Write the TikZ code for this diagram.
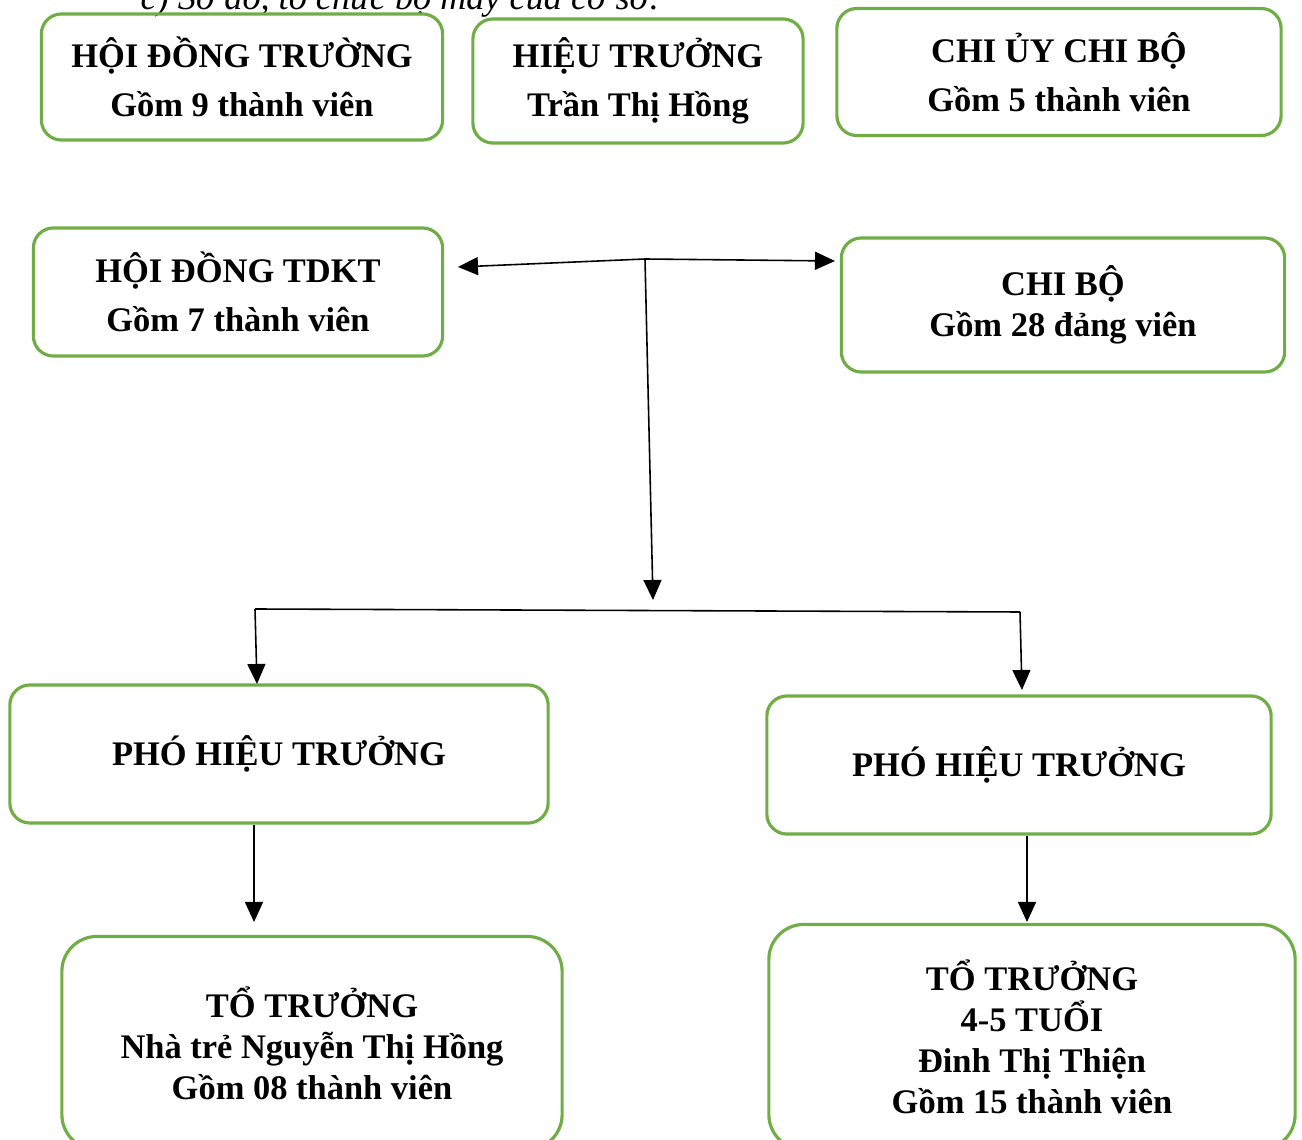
\documentclass[tikz,border=0pt]{standalone}
\usepackage{fontspec}
\setmainfont{Liberation Serif}
\usetikzlibrary{arrows.meta}
\definecolor{vienxanh}{RGB}{112,173,71}
\tikzset{
  khung/.style={draw=vienxanh, line width=0.9pt, rounded corners=2mm, align=center, inner sep=0pt,
    font=\bfseries\fontsize{9.8}{11.7}\selectfont},
  thoang/.style={font=\bfseries\fontsize{9.8}{14}\selectfont},
  muiten/.style={-{Triangle[length=2mm,width=1.8mm]}, line width=0.45pt},
  noi/.style={line width=0.45pt}
}
\begin{document}
\begin{tikzpicture}[x=0.01cm, y=-0.01cm]
  \clip (0,0) rectangle (1302,1140);
  % tieu de bi cat o tren
  \node[anchor=base west, inner sep=0pt, font=\itshape\fontsize{10.3}{12}\selectfont] (tieude) at (140,10) {c) Sơ đồ, tổ chức bộ máy của cơ sở:};

  \node[khung, thoang, minimum width=4.01cm, minimum height=1.26cm] (hdt) at (242,77) {HỘI ĐỒNG TRƯỜNG\\Gồm 9 thành viên};
  \node[khung, thoang, minimum width=3.30cm, minimum height=1.24cm] (ht) at (638,81) {HIỆU TRƯỞNG\\Trần Thị Hồng};
  \node[khung, thoang, minimum width=4.44cm, minimum height=1.27cm] (cuy) at (1059,72) {CHI ỦY CHI BỘ\\Gồm 5 thành viên};
  \node[khung, thoang, minimum width=4.09cm, minimum height=1.28cm] (tdkt) at (238,292) {HỘI ĐỒNG TDKT\\Gồm 7 thành viên};
  \node[khung, minimum width=4.43cm, minimum height=1.34cm] (chibo) at (1063,305) {CHI BỘ\\Gồm 28 đảng viên};
  \node[khung, minimum width=5.38cm, minimum height=1.38cm] (phoT) at (279,754) {PHÓ HIỆU TRƯỞNG};
  \node[khung, minimum width=5.04cm, minimum height=1.38cm] (phoP) at (1019,765) {PHÓ HIỆU TRƯỞNG};
  \node[khung, rounded corners=3.5mm, minimum width=5.00cm, minimum height=2.13cm] (toT) at (312,1043) {TỔ TRƯỞNG\\Nhà trẻ Nguyễn Thị Hồng\\Gồm 08 thành viên};
  \node[khung, rounded corners=3.5mm, minimum width=5.26cm, minimum height=2.25cm] (toP) at (1032,1037) {TỔ TRƯỞNG\\4-5 TUỔI\\Đinh Thị Thiện\\Gồm 15 thành viên};

  % diem re nhanh
  \coordinate (nga3) at (645,259);
  \coordinate (denTDKT) at (458,267);
  \coordinate (denCB) at (835,261);
  \coordinate (xuong) at (653,600);
  \coordinate (ngangT) at (255,609);
  \coordinate (ngangP) at (1020,612);
  \coordinate (denPhoT) at (257,684);
  \coordinate (denPhoP) at (1022,690);
  \coordinate (denToT) at (254,922);
  \coordinate (denToP) at (1027,922);

  \draw[muiten] (nga3) -- (denTDKT);
  \draw[muiten] (nga3) -- (denCB);
  \draw[muiten] (nga3) -- (xuong);
  \draw[noi] (ngangT) -- (ngangP);
  \draw[muiten] (ngangT) -- (denPhoT);
  \draw[muiten] (ngangP) -- (denPhoP);
  \draw[muiten] (denToT |- phoT.south) -- (denToT);
  \draw[muiten] (denToP |- phoP.south) -- (denToP);
\end{tikzpicture}
\end{document}
